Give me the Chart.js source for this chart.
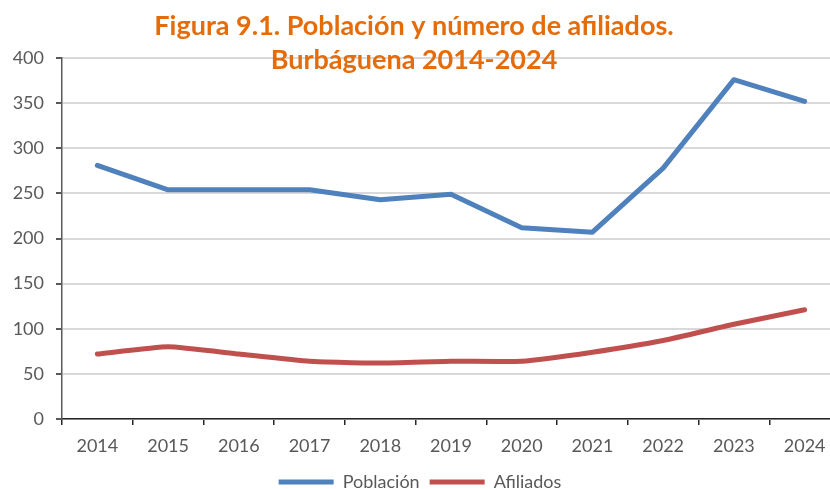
<!DOCTYPE html>
<html>
<head>
<meta charset="utf-8">
<script src="https://cdn.jsdelivr.net/npm/chart.js@4"></script>
<style>
  html, body { margin: 0; padding: 0; background: #fff; overflow: hidden; }
  #wrap { width: 850px; height: 489px; }
</style>
</head>
<body>
<div id="wrap"><canvas id="poblacionChart" width="850" height="489"></canvas></div>
<script>
var years = ['2014', '2015', '2016', '2017', '2018', '2019', '2020', '2021', '2022', '2023', '2024'];
var poblacion = [281, 254, 254, 254, 243, 249, 212, 207, 278, 376, 352];
var afiliados = [72, 80, 72, 64, 62, 64, 64, 74, 87, 105, 121];
var titleLines = ['Figura 9.1. Población y número de afiliados.', 'Burbáguena 2014-2024'];

// title sits over the top of the plot, like in the original
var overlayTitle = {
    id: 'overlayTitle',
    afterDraw: function(chart) {
        var ctx = chart.ctx;
        ctx.save();
        ctx.fillStyle = '#E46C0A';
        ctx.font = 'bold 27px Lato';
        ctx.textAlign = 'center';
        ctx.textBaseline = 'alphabetic';
        ctx.fillText(titleLines[0], 414, 35);
        ctx.fillText(titleLines[1], 414, 69);
        ctx.restore();
    }
};

document.addEventListener('DOMContentLoaded', function() {
    var ctx = document.getElementById('poblacionChart').getContext('2d');
    new Chart(ctx, {
        type: 'line',
        data: {
            labels: years,
            datasets: [{
                label: 'Población',
                data: poblacion,
                borderColor: '#4F81BD',
                backgroundColor: '#4F81BD',
                borderWidth: 5,
                borderCapStyle: 'round',
                borderJoinStyle: 'round',
                pointRadius: 0,
                tension: 0
            }, {
                label: 'Afiliados',
                data: afiliados,
                borderColor: '#C0504D',
                backgroundColor: '#C0504D',
                borderWidth: 5,
                borderCapStyle: 'round',
                borderJoinStyle: 'round',
                pointRadius: 0,
                tension: 0.15
            }]
        },
        options: {
            responsive: false,
            animation: false,
            layout: { padding: { top: 58, right: 10, left: 0, bottom: -12 } },
            scales: {
                x: {
                    offset: true,
                    grid: { offset: true, drawOnChartArea: false, tickLength: 6, tickColor: '#262626', lineWidth: 1.5 },
                    border: { color: '#262626', width: 1.5 },
                    ticks: { color: '#595959', font: { family: 'Lato', size: 18 }, padding: 10, maxRotation: 0 },
                    afterFit: function(scale) { scale.height = 44; }
                },
                y: {
                    min: 0,
                    max: 400,
                    ticks: { stepSize: 50, color: '#595959', font: { family: 'Lato', size: 18 }, padding: 12 },
                    grid: { color: '#D9D9D9', lineWidth: 2, tickLength: 6, tickColor: '#595959' },
                    border: { color: '#595959', width: 1.5 },
                    afterFit: function(scale) { scale.width = 62; }
                }
            },
            plugins: {
                legend: {
                    position: 'bottom',
                    labels: {
                        usePointStyle: true,
                        pointStyle: 'line',
                        pointStyleWidth: 55,
                        color: '#595959',
                        font: { family: 'Lato', size: 18 },
                        padding: 10
                    }
                },
                title: { display: false },
                tooltip: { enabled: false }
            }
        },
        plugins: [overlayTitle]
    });
});
</script>
</body>
</html>
